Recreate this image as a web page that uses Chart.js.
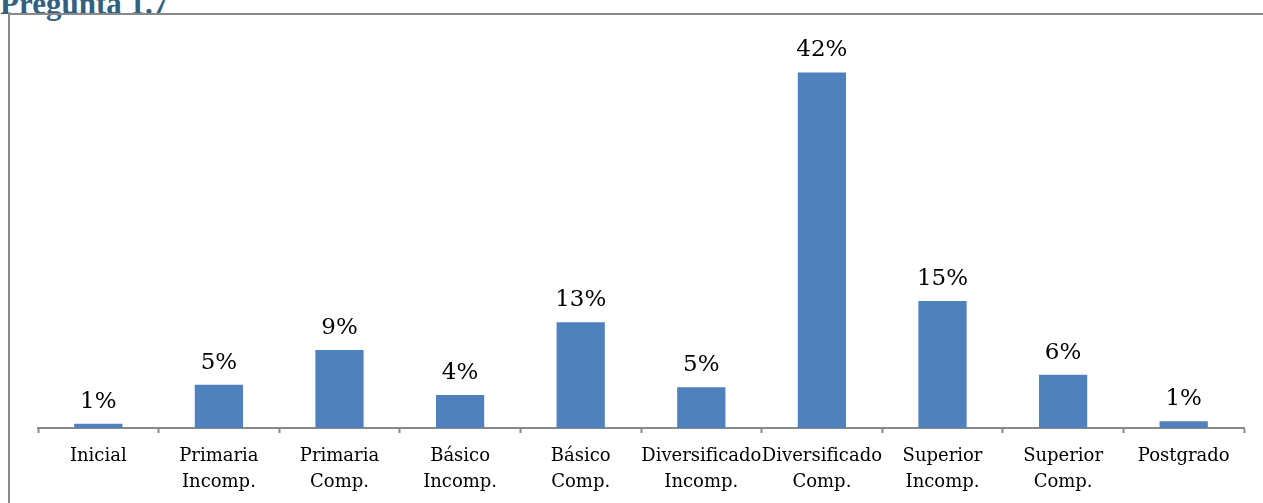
<!DOCTYPE html>
<html lang="es">
<head>
    <meta charset="UTF-8">
    <title>Pregunta 1.7</title>
    <script src="https://cdn.jsdelivr.net/npm/chart.js"></script>
    <style>
        body {
            margin: 0;
            background: #FFFFFF;
            width: 1263px;
            height: 503px;
            overflow: hidden;
            position: relative;
        }

        #titulo {
            position: absolute;
            left: 0;
            top: -12px;
            font-family: "Liberation Serif", serif;
            font-weight: bold;
            font-size: 31px;
            line-height: 31px;
            color: #32607F;
            white-space: nowrap;
        }

        #marco {
            position: absolute;
            left: 8px;
            top: 13px;
            width: 1300px;
            height: 600px;
            border: 2px solid #898989;
        }

        #grafico-box {
            position: absolute;
            left: 0;
            top: 0;
            width: 1263px;
            height: 503px;
        }
    </style>
</head>
<body>

    <div id="titulo">Pregunta 1.7</div>
    <div id="marco"></div>
    <div id="grafico-box">
        <canvas id="grafico"></canvas>
    </div>

    <script>
        // categorias (dos lineas por etiqueta)
        const categorias = [
            ["Inicial"],
            ["Primaria", "Incomp."],
            ["Primaria", "Comp."],
            ["Básico", "Incomp."],
            ["Básico", "Comp."],
            ["Diversificado", "Incomp."],
            ["Diversificado", "Comp."],
            ["Superior", "Incomp."],
            ["Superior", "Comp."],
            ["Postgrado"]
        ];

        // porcentajes
        const porcentajes = [0.5, 5.1, 9.2, 3.9, 12.5, 4.8, 42.0, 15.0, 6.3, 0.8];

        const etiquetasValor = porcentajes.map(v => Math.round(v) + "%");

        const etiquetasPlugin = {
            id: "etiquetasValor",
            afterDatasetsDraw(chart) {
                const ctx = chart.ctx;
                const meta = chart.getDatasetMeta(0);
                ctx.save();
                ctx.font = "23px 'DejaVu Serif', serif";
                ctx.fillStyle = "#000000";
                ctx.textAlign = "center";
                ctx.textBaseline = "alphabetic";
                meta.data.forEach((bar, i) => {
                    ctx.fillText(etiquetasValor[i], bar.x, bar.y - 16);
                });
                ctx.restore();
            }
        };

        new Chart(document.getElementById("grafico"), {
            type: "bar",
            data: {
                labels: categorias,
                datasets: [{
                    data: porcentajes,
                    backgroundColor: "#4F81BD",
                    borderWidth: 0,
                    barPercentage: 0.4,
                    categoryPercentage: 1.0
                }]
            },
            options: {
                responsive: true,
                maintainAspectRatio: false,
                animation: false,
                layout: {
                    padding: { left: 38, right: 19, top: 47, bottom: 0 }
                },
                plugins: {
                    legend: { display: false },
                    tooltip: { enabled: false }
                },
                scales: {
                    x: {
                        grid: {
                            drawOnChartArea: false,
                            drawTicks: true,
                            tickLength: 5,
                            tickColor: "#898989",
                            tickWidth: 2
                        },
                        border: { color: "#898989", width: 2 },
                        ticks: {
                            color: "#000000",
                            font: { family: "'DejaVu Serif', serif", size: 18, lineHeight: 1.42 },
                            maxRotation: 0,
                            autoSkip: false,
                            padding: 11
                        },
                        afterFit: (scale) => { scale.height = 75; }
                    },
                    y: {
                        display: false,
                        min: 0,
                        max: 45
                    }
                }
            },
            plugins: [etiquetasPlugin]
        });
    </script>

</body>
</html>
